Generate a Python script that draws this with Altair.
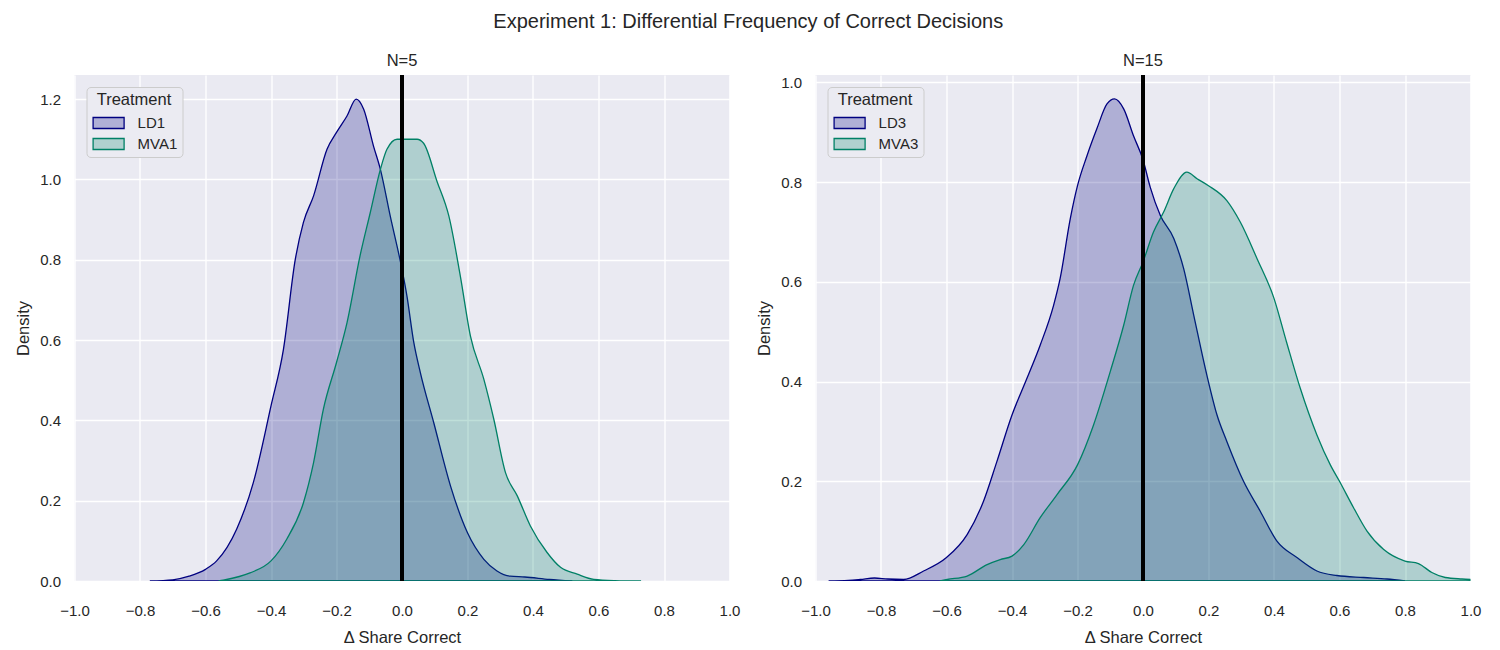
import altair as alt
import pandas as pd

# ---------------- data ----------------
LD1_X = [-0.77, -0.70, -0.65, -0.60, -0.566, -0.505, -0.454, -0.40, -0.362, -0.326, -0.301, -0.270,
         -0.229, -0.20, -0.168, -0.14, -0.117, -0.087, -0.066, -0.036, 0.0, 0.015, 0.036, 0.056,
         0.097, 0.148, 0.20, 0.25, 0.29, 0.33, 0.375, 0.45, 0.52]
LD1_Y = [0.0, 0.003, 0.012, 0.029, 0.05, 0.129, 0.245, 0.436, 0.577, 0.80, 0.893, 0.959,
         1.075, 1.117, 1.158, 1.20, 1.175, 1.083, 1.025, 0.909, 0.776, 0.71, 0.594, 0.519,
         0.394, 0.237, 0.12, 0.054, 0.025, 0.012, 0.01, 0.004, 0.0]

MVA1_X = [-0.56, -0.546, -0.464, -0.40, -0.352, -0.301, -0.270, -0.24, -0.20, -0.168, -0.128, -0.097,
          -0.066, -0.046, -0.015, 0.046, 0.066, 0.107, 0.143, 0.178, 0.209, 0.25, 0.28, 0.316,
          0.352, 0.392, 0.443, 0.484, 0.535, 0.586, 0.65, 0.73]
MVA1_Y = [0.0, 0.002, 0.02, 0.05, 0.104, 0.195, 0.295, 0.428, 0.544, 0.643, 0.81, 0.917,
          1.025, 1.075, 1.10, 1.10, 1.09, 0.995, 0.909, 0.76, 0.61, 0.502, 0.404, 0.27,
          0.212, 0.137, 0.071, 0.034, 0.017, 0.004, 0.001, 0.0]

LD3_X = [-0.96, -0.90, -0.863, -0.82, -0.78, -0.731, -0.67, -0.60, -0.537, -0.487, -0.446, -0.40,
         -0.354, -0.314, -0.273, -0.253, -0.222, -0.20, -0.171, -0.141, -0.11, -0.087, -0.059, -0.029,
         0.0, 0.022, 0.053, 0.094, 0.124, 0.155, 0.195, 0.226, 0.256, 0.307, 0.358, 0.409,
         0.47, 0.531, 0.592, 0.674, 0.745, 0.80]
LD3_Y = [0.0, 0.001, 0.003, 0.006, 0.004, 0.003, 0.02, 0.047, 0.093, 0.16, 0.24, 0.333,
         0.407, 0.473, 0.553, 0.607, 0.727, 0.793, 0.853, 0.907, 0.957, 0.967, 0.947, 0.893,
         0.845, 0.79, 0.733, 0.687, 0.627, 0.533, 0.413, 0.333, 0.28, 0.2, 0.14, 0.08,
         0.047, 0.02, 0.011, 0.007, 0.004, 0.0]

MVA3_X = [-0.62, -0.598, -0.537, -0.476, -0.436, -0.40, -0.364, -0.314, -0.263, -0.20, -0.151, -0.10,
          -0.059, -0.029, 0.0, 0.032, 0.063, 0.094, 0.134, 0.165, 0.20, 0.256, 0.297, 0.348,
          0.40, 0.438, 0.48, 0.531, 0.572, 0.60, 0.643, 0.684, 0.735, 0.80, 0.841, 0.882,
          0.923, 0.974, 1.0]
MVA3_Y = [0.0, 0.003, 0.01, 0.033, 0.043, 0.05, 0.073, 0.127, 0.173, 0.233, 0.313, 0.42,
          0.513, 0.593, 0.64, 0.70, 0.74, 0.787, 0.82, 0.807, 0.793, 0.763, 0.72, 0.647,
          0.567, 0.48, 0.387, 0.293, 0.233, 0.2, 0.147, 0.1, 0.063, 0.04, 0.035, 0.017,
          0.007, 0.004, 0.003]

X_TICKS = [-1.0, -0.8, -0.6, -0.4, -0.2, 0.0, 0.2, 0.4, 0.6, 0.8, 1.0]
Y_TICKS_1 = [0.0, 0.2, 0.4, 0.6, 0.8, 1.0, 1.2]
Y_TICKS_2 = [0.0, 0.2, 0.4, 0.6, 0.8, 1.0]

SUPTITLE = "Experiment 1: Differential Frequency of Correct Decisions"

# ---------------- styling ----------------
FONT = "Liberation Sans"
TEXT = "#262626"
BG = "#EAEAF2"
NAVY = "#000080"
TEAL = "#008066"
# the two colours at 25 % over the legend background (for the legend swatches)
NAVY_SWATCH = "#B0B0D6"
TEAL_SWATCH = "#B0D0CF"
SYMBOL = "M-1.55,-0.55H1.55V0.55H-1.55Z"


def series_frame(xs, ys, name, colour):
    return pd.DataFrame({"x": xs, "y": ys, "Treatment": name, "colour": colour})


def legend():
    return alt.Legend(
        title="Treatment", orient="top-left", offset=12,
        fillColor="#EBEBF2", strokeColor="#CCCCCC", cornerRadius=4, padding=4.5,
        titleFont=FONT, titleFontSize=16.5, titleFontWeight="normal", titleColor=TEXT,
        titleAnchor="middle", titlePadding=4,
        labelFont=FONT, labelFontSize=15, labelColor=TEXT, labelOffset=18,
        symbolType=SYMBOL, symbolSize=400, symbolStrokeWidth=1.3, symbolOpacity=1,
        symbolOffset=6.6, rowPadding=1,
    )


def panel(frames, names, title, ymax, yticks):
    df = pd.concat(frames, ignore_index=True)
    line_scale = alt.Scale(domain=names, range=[NAVY, TEAL])
    swatch_scale = alt.Scale(domain=names, range=[NAVY_SWATCH, TEAL_SWATCH])
    x_enc = alt.X("x:Q", scale=alt.Scale(domain=[-1, 1], nice=False, zero=False),
                  axis=alt.Axis(values=X_TICKS, format=".1f", title="Δ Share Correct"))
    y_enc = alt.Y("y:Q", stack=None, scale=alt.Scale(domain=[0, ymax], nice=False),
                  axis=alt.Axis(values=yticks, format=".1f", title="Density"))
    area = alt.Chart(df).mark_area(
        fillOpacity=0.25, strokeWidth=1.3, interpolate="monotone", clip=True
    ).encode(
        x=x_enc, y=y_enc,
        fill=alt.Fill("colour:N", scale=None),
        stroke=alt.Stroke("colour:N", scale=None),
        order=alt.Order("Treatment:N"),
    )
    # invisible points that only carry the legend (swatch fill + edge colour)
    key = alt.Chart(df).mark_point(filled=True, opacity=0).encode(
        x=x_enc, y=y_enc,
        color=alt.Color("Treatment:N", scale=swatch_scale, legend=legend()),
        stroke=alt.Stroke("Treatment:N", scale=line_scale, legend=legend()),
    )
    rule = alt.Chart(df).mark_rule(color="black", strokeWidth=3.5).encode(
        x=alt.datum(0.0)
    )
    return alt.layer(area, key, rule).properties(
        width=655, height=506,
        title=alt.TitleParams(title, font=FONT, fontSize=16.5, fontWeight="normal",
                              color=TEXT, offset=4),
    )


p1 = panel([series_frame(LD1_X, LD1_Y, "LD1", NAVY), series_frame(MVA1_X, MVA1_Y, "MVA1", TEAL)],
           ["LD1", "MVA1"], "N=5", 1.26, Y_TICKS_1)
p2 = panel([series_frame(LD3_X, LD3_Y, "LD3", NAVY), series_frame(MVA3_X, MVA3_Y, "MVA3", TEAL)],
           ["LD3", "MVA3"], "N=15", 1.015, Y_TICKS_2)

chart = alt.hconcat(p1, p2, spacing=16).resolve_scale(
    x="independent", y="independent", stroke="independent", color="independent"
).properties(
    title=alt.TitleParams(SUPTITLE, font=FONT, fontSize=20, fontWeight="normal",
                          color=TEXT, anchor="middle", offset=21),
    background="white",
    padding={"left": 7.5, "top": 3, "right": 5, "bottom": 0},
).configure_view(
    fill=BG, strokeWidth=0
).configure_axis(
    grid=True, gridColor="white", gridWidth=1.3, domain=False, ticks=False,
    labelFont=FONT, labelFontSize=15, labelColor=TEXT, labelOverlap=False, labelFlush=False,
    titleFont=FONT, titleFontSize=16.5, titleFontWeight="normal", titleColor=TEXT,
).configure_axisX(
    labelPadding=22, titlePadding=11
).configure_axisY(
    labelPadding=14, titlePadding=8
)

chart.save("out.html", embed_options={"renderer": "svg", "actions": False})
